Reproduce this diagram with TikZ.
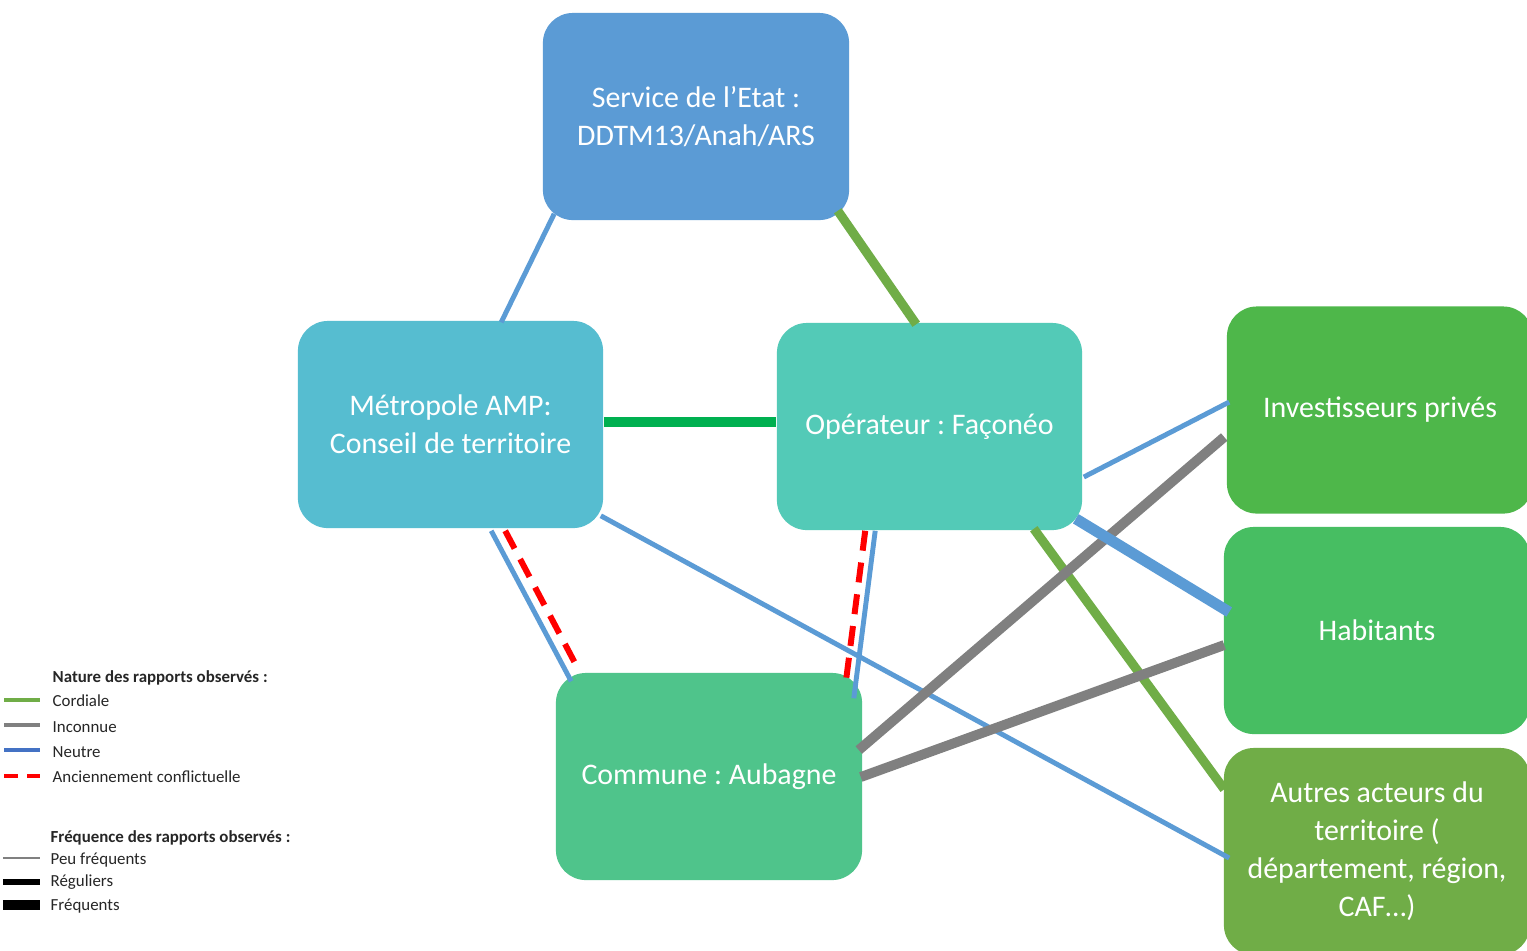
\documentclass[tikz,border=0pt]{standalone}
\usepackage{fontspec}
\setmainfont{Carlito}
\usetikzlibrary{calc}
\frenchspacing
\definecolor{cEtat}{HTML}{5B9BD5}
\definecolor{cMet}{HTML}{56BDD0}
\definecolor{cOp}{HTML}{53CAB7}
\definecolor{cCom}{HTML}{4FC48B}
\definecolor{cInv}{HTML}{4EB74A}
\definecolor{cHab}{HTML}{47BE62}
\definecolor{cAut}{HTML}{70AD47}
\definecolor{lBlue}{HTML}{5B9BD5}
\definecolor{lGreen}{HTML}{70AD47}
\definecolor{lGreenB}{HTML}{00B050}
\definecolor{lGray}{HTML}{808080}
\definecolor{lRed}{HTML}{FF0000}
\definecolor{legBlue}{HTML}{4472C4}
\definecolor{legText}{HTML}{262626}
\tikzset{
  actor/.style={rounded corners=30*0.01cm, minimum width=3.06cm, minimum height=2.07cm,
    text=white, align=center, inner sep=0pt, font=\fontsize{8.5}{10.8}\selectfont\frenchspacing},
  neutre/.style={draw=lBlue, line width=1.4pt},
  neutrefort/.style={draw=lBlue, line width=3.1pt},
  cordiale/.style={draw=lGreen, line width=2.6pt},
  inconnue/.style={draw=lGray, line width=2.8pt},
  conflit/.style={draw=lRed, line width=1.7pt, dash pattern=on 5.7pt off 3.4pt},
  legtxt/.style={anchor=west, inner sep=0pt, text=legText, font=\fontsize{4.8}{5.5}\selectfont\frenchspacing},
}
\begin{document}
\begin{tikzpicture}[x=0.01cm, y=-0.01cm]
\useasboundingbox (0,0) rectangle (1527,950);
\clip (0,0) rectangle (1527,950);
\fill[white] (0,0) rectangle (1527,950);

% nodes
\node[actor, fill=cEtat] (etat) at (696,116.5) {Service de l’Etat :\\DDTM13/Anah/ARS};
\node[actor, fill=cMet, minimum width=3.05cm] (met) at (450.5,424.5) {Métropole AMP:\\Conseil de territoire};
\node[actor, fill=cOp, minimum width=3.05cm] (op) at (929.5,426.5) {Opérateur : Façonéo};
\node[actor, fill=cCom] (com) at (709,776.5) {Commune : Aubagne};
\node[actor, fill=cInv] (inv) at (1380,410) {Investisseurs privés};
\node[actor, fill=cHab] (hab) at (1377,630.5) {Habitants};
\node[actor, fill=cAut] (aut) at (1377,851.5) {\raisebox{0pt}[\height][\depth]{}Autres acteurs du\\territoire (\\département, région,\\CAF…)};

% connectors: thin neutral
\draw[neutre] ($(etat.south west)+(12,-7)$) -- ($(met.north west)+(204,2)$);
\draw[neutre] ($(met.south west)+(194,2)$) -- ($(com.north west)+(16,9)$);
\draw[neutre] ($(op.south west)+(99,0)$) -- ($(com.north east)+(-9,26)$);
\draw[neutre] ($(met.south east)+(-3,-13)$) -- ($(aut.west)+(6,6.5)$);
\draw[neutre] ($(op.east)+(1,50.5)$) -- ($(inv.west)+(3,-8)$);
% conflict
\draw[conflit] ($(met.south west)+(208,2)$) -- ($(com.north west)+(22,-5)$);
\draw[conflit] ($(op.south west)+(89,0)$) -- ($(com.north east)+(-17,10)$);
% cordial
\draw[cordiale] ($(etat.south east)+(-12,-10)$) -- ($(op.north west)+(140,2)$);
\draw[cordiale, draw=lGreenB, line width=2.8pt] ($(met.east)+(0,-2.5)$) -- ($(op.west)+(0,-4.5)$);
\draw[cordiale] ($(op.south east)+(-49,-2)$) -- ($(aut.north west)+(1,42)$);
% unknown
\draw[inconnue] ($(com.east)+(-4,-26.5)$) -- ($(inv.west)+(-2,27)$);
\draw[inconnue] ($(com.east)+(-2,0.5)$) -- ($(hab.west)+(1,14.5)$);
% strong neutral
\draw[neutrefort] ($(op.south east)+(-7,-12)$) -- ($(hab.west)+(6,-18.5)$);

% legend
\node[legtxt, font=\fontsize{4.8}{5.5}\selectfont\bfseries] (lt1) at (52,678) {Nature des rapports observés :};
\coordinate (la1) at (4,700); \coordinate (lb1) at (40,700);
\draw[draw=lGreen, line width=1.4pt] (la1) -- (lb1);
\node[legtxt] (lc1) at (52,701) {Cordiale};
\coordinate (la2) at (4,725); \coordinate (lb2) at (40,725);
\draw[draw=lGray, line width=1.4pt] (la2) -- (lb2);
\node[legtxt] (lc2) at (52,727) {Inconnue};
\coordinate (la3) at (4,750); \coordinate (lb3) at (40,750);
\draw[draw=legBlue, line width=1.4pt] (la3) -- (lb3);
\node[legtxt] (lc3) at (52,752) {Neutre};
\coordinate (la4) at (4,776); \coordinate (lb4) at (40,776);
\draw[draw=lRed, line width=1.4pt, dash pattern=on 4pt off 2.6pt] (la4) -- (lb4);
\node[legtxt] (lc4) at (52,777) {Anciennement conflictuelle};

\node[legtxt, font=\fontsize{4.8}{5.5}\selectfont\bfseries] (lt2) at (50,838) {Fréquence des rapports observés :};
\coordinate (la5) at (3,858); \coordinate (lb5) at (40,858);
\draw[draw=lGray, line width=0.6pt] (la5) -- (lb5);
\node[legtxt] (lc5) at (50,860) {Peu fréquents};
\coordinate (la6) at (3,882); \coordinate (lb6) at (40,882);
\draw[draw=black, line width=1.5pt] (la6) -- (lb6);
\node[legtxt] (lc6) at (50,882) {Réguliers};
\coordinate (la7) at (3,905); \coordinate (lb7) at (40,905);
\draw[draw=black, line width=2.9pt] (la7) -- (lb7);
\node[legtxt] (lc7) at (50,906) {Fréquents};
\end{tikzpicture}
\end{document}
